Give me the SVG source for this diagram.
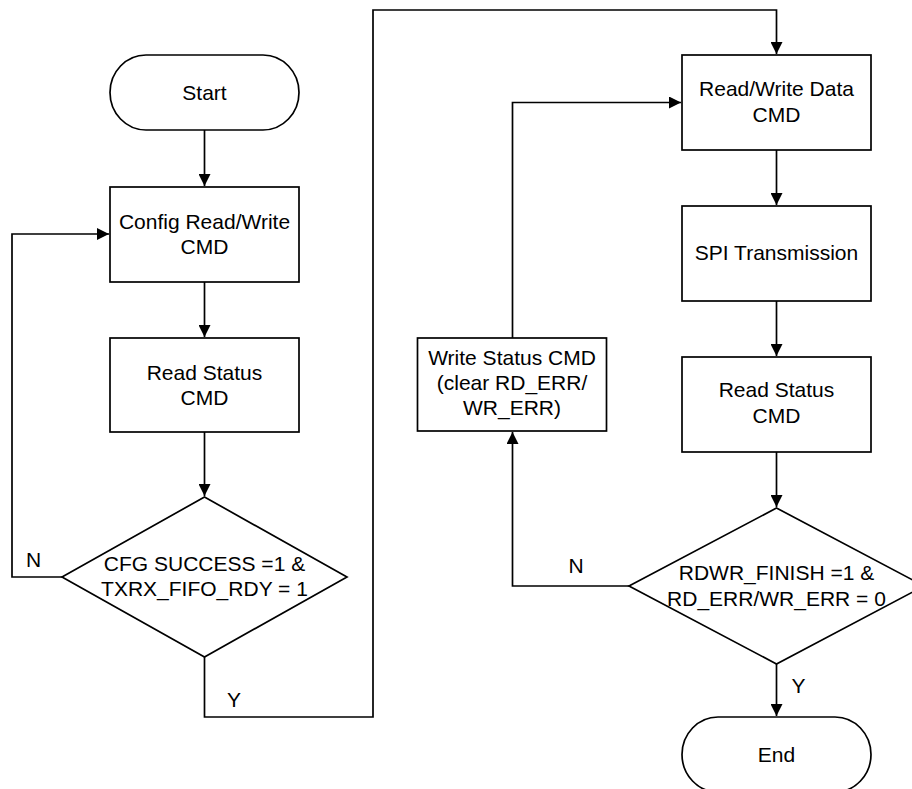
<svg xmlns="http://www.w3.org/2000/svg" width="912" height="789" viewBox="0 0 912 789">
<defs>
<marker id="arr" viewBox="0 0 12 12" refX="12" refY="6" markerWidth="12" markerHeight="12" markerUnits="userSpaceOnUse" orient="auto">
<path d="M0,0 L12,6 L0,12 Z" fill="#000"/>
</marker>
</defs>
<style>
.shape{fill:#fff;stroke:#000;stroke-width:1.7}
.conn{fill:none;stroke:#000;stroke-width:1.7}
text{font-family:"Liberation Sans",Arial,sans-serif;font-size:21px;fill:#000}
.c{text-anchor:middle}
</style>
<rect width="912" height="789" fill="#fff"/>
<g id="connectors">
<path class="conn" d="M204.5,130 V186" marker-end="url(#arr)"/>
<path class="conn" d="M204.5,282 V337" marker-end="url(#arr)"/>
<path class="conn" d="M204.5,432 V496" marker-end="url(#arr)"/>
<path class="conn" d="M62,577 H12 V234 H109" marker-end="url(#arr)"/>
<path class="conn" d="M204.5,657 V717 H373 V10 H776.5 V54" marker-end="url(#arr)"/>
<path class="conn" d="M776.5,150 V205" marker-end="url(#arr)"/>
<path class="conn" d="M776.5,301 V356" marker-end="url(#arr)"/>
<path class="conn" d="M776.5,452 V507" marker-end="url(#arr)"/>
<path class="conn" d="M776.5,664 V716" marker-end="url(#arr)"/>
<path class="conn" d="M629,586 H512.5 V432" marker-end="url(#arr)"/>
<path class="conn" d="M512.5,338 V102.5 H681" marker-end="url(#arr)"/>
<text x="33.5" y="567" class="c">N</text>
<text x="234" y="707" class="c">Y</text>
<text x="576" y="573" class="c">N</text>
<text x="798.5" y="693" class="c">Y</text>
</g>
<g id="start">
<rect class="shape" x="110" y="55" width="189" height="75" rx="36" ry="37.5"/>
<text x="204.5" y="100" class="c">Start</text>
</g>
<g id="config">
<rect class="shape" x="110" y="187" width="189" height="95"/>
<text x="204.5" y="228.5" class="c">Config Read/Write</text>
<text x="204.5" y="254" class="c">CMD</text>
</g>
<g id="readstatus1">
<rect class="shape" x="110" y="338" width="189" height="94"/>
<text x="204.5" y="379.5" class="c">Read Status</text>
<text x="204.5" y="405" class="c">CMD</text>
</g>
<g id="decision1">
<polygon class="shape" points="204.5,497 347,577 204.5,657 62,577"/>
<text x="204.5" y="571" class="c">CFG SUCCESS =1 &amp;</text>
<text x="204.5" y="596" class="c">TXRX_FIFO_RDY = 1</text>
</g>
<g id="rwdata">
<rect class="shape" x="682" y="55" width="189" height="95"/>
<text x="776.5" y="96" class="c">Read/Write Data</text>
<text x="776.5" y="121.5" class="c">CMD</text>
</g>
<g id="spi">
<rect class="shape" x="682" y="206" width="189" height="95"/>
<text x="776.5" y="260" class="c">SPI Transmission</text>
</g>
<g id="readstatus2">
<rect class="shape" x="682" y="357" width="189" height="95"/>
<text x="776.5" y="397" class="c">Read Status</text>
<text x="776.5" y="422.5" class="c">CMD</text>
</g>
<g id="decision2">
<polygon class="shape" points="776.5,508 924,586 776.5,664 629,586"/>
<text x="776.5" y="580" class="c">RDWR_FINISH =1 &amp;</text>
<text x="776.5" y="605.5" class="c">RD_ERR/WR_ERR = 0</text>
</g>
<g id="writestatus">
<rect class="shape" x="417.5" y="338" width="189" height="93"/>
<text x="512" y="365" class="c">Write Status CMD</text>
<text x="512" y="390" class="c">(clear RD_ERR/</text>
<text x="512" y="415" class="c">WR_ERR)</text>
</g>
<g id="end">
<rect class="shape" x="682" y="717" width="189" height="75" rx="36" ry="37.5"/>
<text x="776.5" y="762" class="c">End</text>
</g>
</svg>
